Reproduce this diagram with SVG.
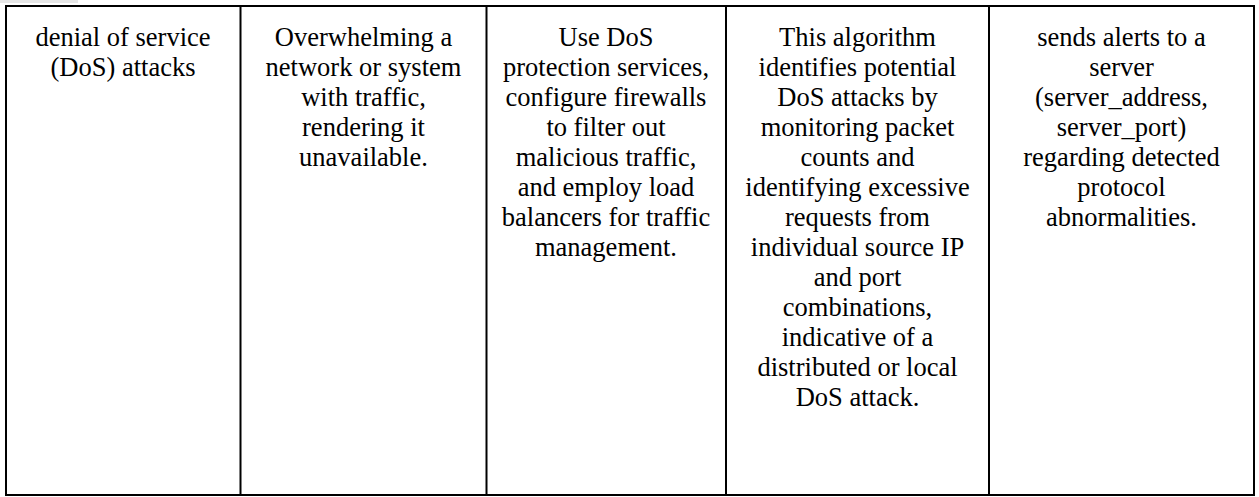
<svg xmlns="http://www.w3.org/2000/svg" width="1259" height="497" viewBox="0 0 1259 497">
<style>
.t{font-size:26.5px;fill:#000;text-anchor:middle}
.b{stroke:#000;stroke-width:2;fill:none}
</style>
<rect x="0" y="0" width="1259" height="497" fill="#fff"/>
<rect x="0" y="0" width="78" height="3" fill="#e6e6e6"/>
<g id="connectors">
<rect class="b" x="6" y="6" width="1248" height="489"/>
<line class="b" x1="240.5" y1="6" x2="240.5" y2="495"/>
<line class="b" x1="486.5" y1="6" x2="486.5" y2="495"/>
<line class="b" x1="726" y1="6" x2="726" y2="495"/>
<line class="b" x1="989" y1="6" x2="989" y2="495"/>
</g>
<g id="cell1" font-family="Times New Roman, Liberation Serif, serif">
<text class="t" x="123" y="46">denial of service</text>
<text class="t" x="123" y="76">(DoS) attacks</text>
</g>
<g id="cell2" font-family="Times New Roman, Liberation Serif, serif">
<text class="t" x="363.5" y="46">Overwhelming a</text>
<text class="t" x="363.5" y="76">network or system</text>
<text class="t" x="363.5" y="106">with traffic,</text>
<text class="t" x="363.5" y="136">rendering it</text>
<text class="t" x="363.5" y="166">unavailable.</text>
</g>
<g id="cell3" font-family="Times New Roman, Liberation Serif, serif">
<text class="t" x="606" y="46">Use DoS</text>
<text class="t" x="606" y="76">protection services,</text>
<text class="t" x="606" y="106">configure firewalls</text>
<text class="t" x="606" y="136">to filter out</text>
<text class="t" x="606" y="166">malicious traffic,</text>
<text class="t" x="606" y="196">and employ load</text>
<text class="t" x="606" y="226">balancers for traffic</text>
<text class="t" x="606" y="256">management.</text>
</g>
<g id="cell4" font-family="Times New Roman, Liberation Serif, serif">
<text class="t" x="857.5" y="46">This algorithm</text>
<text class="t" x="857.5" y="76">identifies potential</text>
<text class="t" x="857.5" y="106">DoS attacks by</text>
<text class="t" x="857.5" y="136">monitoring packet</text>
<text class="t" x="857.5" y="166">counts and</text>
<text class="t" x="857.5" y="196">identifying excessive</text>
<text class="t" x="857.5" y="226">requests from</text>
<text class="t" x="857.5" y="256">individual source IP</text>
<text class="t" x="857.5" y="286">and port</text>
<text class="t" x="857.5" y="316">combinations,</text>
<text class="t" x="857.5" y="346">indicative of a</text>
<text class="t" x="857.5" y="376">distributed or local</text>
<text class="t" x="857.5" y="406">DoS attack.</text>
</g>
<g id="cell5" font-family="Times New Roman, Liberation Serif, serif">
<text class="t" x="1121.5" y="46">sends alerts to a</text>
<text class="t" x="1121.5" y="76">server</text>
<text class="t" x="1121.5" y="106">(server_address,</text>
<text class="t" x="1121.5" y="136">server_port)</text>
<text class="t" x="1121.5" y="166">regarding detected</text>
<text class="t" x="1121.5" y="196">protocol</text>
<text class="t" x="1121.5" y="226">abnormalities.</text>
</g>
</svg>
